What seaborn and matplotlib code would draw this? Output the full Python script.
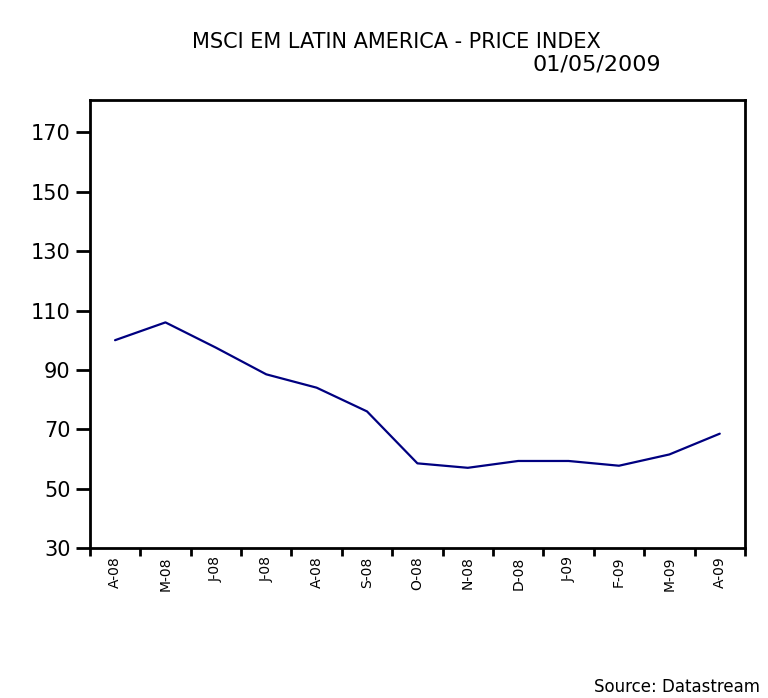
import pandas as pd
import seaborn as sns
import matplotlib
matplotlib.use("Agg")
import matplotlib.pyplot as plt

# monthly readings of the index
months = ["A-08", "M-08", "J-08", "J-08", "A-08", "S-08", "O-08",
          "N-08", "D-08", "J-09", "F-09", "M-09", "A-09"]
values = [100, 106, 97.5, 88.5, 84, 76, 58.5, 57, 59.3, 59.3, 57.7, 61.5, 68.5]
yticks = [30, 50, 70, 90, 110, 130, 150, 170]

data = pd.DataFrame({"pos": range(len(months)), "month": months, "value": values})

sns.set_style("white")
plt.rcParams['font.family'] = ['DejaVu Sans']
plt.rcParams['text.color'] = 'black'
plt.rcParams['xtick.color'] = 'black'
plt.rcParams['ytick.color'] = 'black'

fig = plt.figure(figsize=(7.68, 6.98), dpi=100)
ax = fig.add_axes([0.117, 0.215, 0.853, 0.642])

sns.lineplot(data=data, x="pos", y="value", color="#000080", linewidth=1.6, ax=ax)

ax.set_xlim(-0.5, len(months) - 0.5)
ax.set_ylim(30, 181)
ax.set_yticks(yticks)
ax.set_yticklabels([str(v) for v in yticks], fontsize=15)

# category axis: ticks at boundaries, labels in between
ax.set_xticks([i - 0.5 for i in range(len(months) + 1)])
ax.set_xticklabels([])
ax.set_xticks(range(len(months)), minor=True)
ax.set_xticklabels(months, minor=True, rotation=90, fontsize=10)
ax.tick_params(axis="x", which="minor", length=0, pad=6)
ax.tick_params(axis="x", which="major", direction="out", length=6, width=2, color="black", bottom=True)
ax.tick_params(axis="y", direction="out", length=10, width=2, color="black", left=True, pad=4)

for s in ax.spines.values():
    s.set_color("black")
    s.set_linewidth(2)

ax.set_xlabel("")
ax.set_ylabel("")

fig.text(0.516, 0.940, "MSCI EM LATIN AMERICA - PRICE INDEX", ha="center", va="center", fontsize=15)
fig.text(0.777, 0.907, "01/05/2009", ha="center", va="center", fontsize=16)
fig.text(0.99, 0.016, "Source: Datastream", ha="right", va="center", fontsize=12)

fig.savefig("out.png", dpi=100)
